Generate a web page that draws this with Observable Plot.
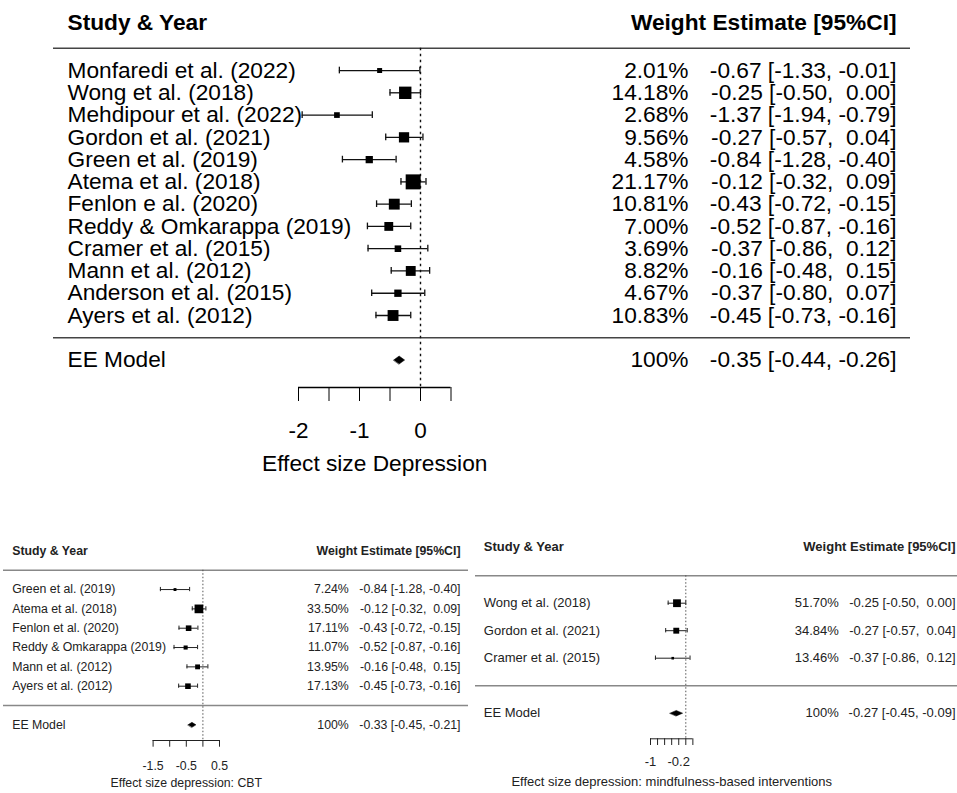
<!DOCTYPE html>
<html>
<head>
<meta charset="utf-8">
<script src="https://cdn.jsdelivr.net/npm/d3@7"></script>
<script src="https://cdn.jsdelivr.net/npm/@observablehq/plot@0.6"></script>
<style>
html, body { margin: 0; padding: 0; background: #fff; }
#wrap { position: relative; width: 957px; height: 793px; overflow: hidden; font-family: "Liberation Sans", Arial, sans-serif; }
#wrap > div { position: absolute; }
svg text { white-space: pre; }
</style>
</head>
<body>
<div id="wrap">
  <div id="main" style="left:0;top:0"></div>
  <div id="cbt" style="left:0;top:520px"></div>
  <div id="mbi" style="left:475px;top:520px"></div>
</div>
<script>
// ---------- Main forest plot: all studies ----------
const mainStudies = ["Monfaredi et al. (2022)", "Wong et al. (2018)", "Mehdipour et al. (2022)", "Gordon et al. (2021)",
  "Green et al. (2019)", "Atema et al. (2018)", "Fenlon e al. (2020)", "Reddy & Omkarappa (2019)",
  "Cramer et al. (2015)", "Mann et al. (2012)", "Anderson et al. (2015)", "Ayers et al. (2012)"];
const mainWeights = [2.01, 14.18, 2.68, 9.56, 4.58, 21.17, 10.81, 7.00, 3.69, 8.82, 4.67, 10.83];
const mainEst = [-0.67, -0.25, -1.37, -0.27, -0.84, -0.12, -0.43, -0.52, -0.37, -0.16, -0.37, -0.45];
const mainLo  = [-1.33, -0.50, -1.94, -0.57, -1.28, -0.32, -0.72, -0.87, -0.86, -0.48, -0.80, -0.73];
const mainHi  = [-0.01, 0.00, -0.79, 0.04, -0.40, 0.09, -0.15, -0.16, 0.12, 0.15, 0.07, -0.16];
const mainModel = ["EE Model", 100, -0.35, -0.44, -0.26];
const mainTicks = [-2, -1.5, -1, -0.5, 0, 0.5];
const mainTickLabels = [-2, -1, 0];
const mainTitle = "Effect size Depression";

// ---------- CBT subgroup ----------
const cbtStudies = ["Green et al. (2019)", "Atema et al. (2018)", "Fenlon et al. (2020)", "Reddy & Omkarappa (2019)",
  "Mann et al. (2012)", "Ayers et al. (2012)"];
const cbtWeights = [7.24, 33.50, 17.11, 11.07, 13.95, 17.13];
const cbtEst = [-0.84, -0.12, -0.43, -0.52, -0.16, -0.45];
const cbtLo  = [-1.28, -0.32, -0.72, -0.87, -0.48, -0.73];
const cbtHi  = [-0.40, 0.09, -0.15, -0.16, 0.15, -0.16];
const cbtModel = ["EE Model", 100, -0.33, -0.45, -0.21];
const cbtTicks = [-1.5, -1, -0.5, 0, 0.5];
const cbtTickLabels = [-1.5, -0.5, 0.5];
const cbtTitle = "Effect size depression: CBT";

// ---------- Mindfulness subgroup ----------
const mbiStudies = ["Wong et al. (2018)", "Gordon et al. (2021)", "Cramer et al. (2015)"];
const mbiWeights = [51.70, 34.84, 13.46];
const mbiEst = [-0.25, -0.27, -0.37];
const mbiLo  = [-0.50, -0.57, -0.86];
const mbiHi  = [0.00, 0.04, 0.12];
const mbiModel = ["EE Model", 100, -0.27, -0.45, -0.09];
const mbiTicks = [-1, -0.8, -0.6, -0.4, -0.2, 0, 0.2];
const mbiTickLabels = [-1, -0.2];
const mbiTitle = "Effect size depression: mindfulness-based interventions";

const headLeft = "Study & Year";
const headRight = "Weight Estimate [95%CI]";

function forest(c) {
  const k = c.studies.length;
  const rows = c.studies.map((s, i) => ({label: s, weight: c.weights[i], est: c.est[i], lo: c.lo[i], hi: c.hi[i], row: k - i}));
  const model = {label: c.model[0], weight: c.model[1], est: c.model[2], lo: c.model[3], hi: c.model[4], row: -1};
  const all = rows.concat([model]);
  const f2 = v => v.toFixed(2);
  const wE = d3.max(all, d => f2(d.est).length);
  const wL = d3.max(all, d => f2(d.lo).length);
  const wH = d3.max(all, d => f2(d.hi).length);
  const estStr = d => `${f2(d.est).padStart(wE)} [${f2(d.lo).padStart(wL)}, ${f2(d.hi).padStart(wH)}]`;
  const wStr = d => d.weight === 100 ? "100%" : d.weight.toFixed(2) + "%";
  const sq = d3.extent(rows, d => Math.sqrt(d.weight));
  const side = d => c.base * (0.5 + (Math.sqrt(d.weight) - sq[0]) / (sq[1] - sq[0]));
  const axisRow = 1 - (c.axisPx - c.row1Px) / c.rowPx;
  const headRow = k + 2, topRow = k + 1;
  const tickExt = d3.extent(c.ticks);
  const diamond = [[model.lo, model.row], [model.est, model.row + c.dia], [model.hi, model.row], [model.est, model.row - c.dia]]
    .map(([x, y]) => ({x, y}));
  const fs = c.fontSize;
  return Plot.plot({
    width: c.width,
    height: c.height,
    marginLeft: c.ml,
    marginRight: c.mr,
    marginTop: 0,
    marginBottom: c.height - c.axisPx,
    style: {fontSize: c.tickFont + "px", fontFamily: '"Liberation Sans", Arial, sans-serif', background: "transparent", color: c.textColor, overflow: "visible"},
    x: {domain: tickExt, range: tickExt.map(t => c.x0Px + t * c.ppu), ticks: c.ticks, tickSize: c.tickSize,
        tickPadding: c.tickPad, tickFormat: d => c.tickLabels.includes(d) ? String(d) : "", label: null, axis: "bottom"},
    y: {domain: [headRow, axisRow], range: [c.row1Px - (headRow - 1) * c.rowPx, c.axisPx], axis: null},
    r: {type: "identity"},
    marks: [
      Plot.ruleY([topRow, 0], {stroke: c.lineColor, strokeWidth: c.lineWidth}),
      Plot.ruleX([0], {y1: topRow, y2: axisRow, stroke: c.refColor, strokeWidth: c.refWidth, strokeDasharray: c.dash}),
      Plot.ruleY([axisRow], {x1: tickExt[0], x2: tickExt[1], stroke: c.textColor, strokeWidth: c.axisWidth}),
      Plot.ruleY(rows, {y: "row", x1: "lo", x2: "hi", stroke: c.barColor, strokeWidth: c.barWidth}),
      Plot.ruleX(rows, {x: "lo", y1: d => d.row - c.cap, y2: d => d.row + c.cap, stroke: c.barColor, strokeWidth: c.barWidth}),
      Plot.ruleX(rows, {x: "hi", y1: d => d.row - c.cap, y2: d => d.row + c.cap, stroke: c.barColor, strokeWidth: c.barWidth}),
      Plot.dot(rows, {x: "est", y: "row", r: d => side(d) / Math.sqrt(Math.PI), symbol: "square", fill: "#000", stroke: "none"}),
      Plot.line(diamond, {x: "x", y: "y", curve: "linear-closed", fill: "#000", stroke: "#000", strokeWidth: 0.5}),
      Plot.text(all, {y: "row", text: "label", frameAnchor: "left", dx: c.nameDx, textAnchor: "start", fontSize: fs}),
      Plot.text(all, {y: "row", text: wStr, frameAnchor: "right", dx: c.wDx, textAnchor: "end", fontSize: fs}),
      Plot.text(all, {y: "row", text: estStr, frameAnchor: "right", dx: c.eDx, textAnchor: "end", fontSize: fs}),
      Plot.text([headLeft], {y: headRow, text: d => d, frameAnchor: "left", dx: c.nameDx, dy: c.headDy, textAnchor: "start", fontSize: c.headSize, fontWeight: "bold"}),
      Plot.text([headRight], {y: headRow, text: d => d, frameAnchor: "right", dx: c.eDx, dy: c.headDy, textAnchor: "end", fontSize: c.headSize, fontWeight: "bold"}),
      Plot.text([c.title], {x: d3.mean(tickExt), text: d => d, frameAnchor: "bottom", dy: c.titleDy, fontSize: c.titleSize})
    ]
  });
}

document.getElementById("main").append(forest({
  studies: mainStudies, weights: mainWeights, est: mainEst, lo: mainLo, hi: mainHi, model: mainModel,
  ticks: mainTicks, tickLabels: mainTickLabels, title: mainTitle,
  width: 957, height: 490, ml: 53, mr: 47,
  x0Px: 420, ppu: 61, row1Px: 315, rowPx: 22.27, axisPx: 387,
  tickSize: 14, tickPad: 21, base: 10, cap: 0.15, dia: 0.18,
  fontSize: 22.7, headSize: 22.7, titleSize: 22.7, tickFont: 22.5, headDy: -3, titleDy: 83,
  nameDx: 14, wDx: -222, eDx: -14,
  textColor: "#000", lineColor: "#444", lineWidth: 1.6, refColor: "#111", refWidth: 1.4, dash: "2.5,3.5",
  axisWidth: 1.3, barColor: "#111", barWidth: 1.3
}));

document.getElementById("cbt").append(forest({
  studies: cbtStudies, weights: cbtWeights, est: cbtEst, lo: cbtLo, hi: cbtHi, model: cbtModel,
  ticks: cbtTicks, tickLabels: cbtTickLabels, title: cbtTitle,
  width: 475, height: 273, ml: 3, mr: 7,
  x0Px: 202.4, ppu: 33.2, row1Px: 165.7, rowPx: 19.33, axisPx: 220,
  tickSize: 6.7, tickPad: 14, base: 5.8, cap: 0.11, dia: 0.13,
  fontSize: 12.3, headSize: 12.3, titleSize: 12.3, tickFont: 12.3, headDy: 0.5, titleDy: 46.7,
  nameDx: 8.7, wDx: -119.7, eDx: -8,
  textColor: "#222", lineColor: "#888", lineWidth: 1.4, refColor: "#555", refWidth: 1, dash: "1.5,2",
  axisWidth: 1, barColor: "#222", barWidth: 1
}));

document.getElementById("mbi").append(forest({
  studies: mbiStudies, weights: mbiWeights, est: mbiEst, lo: mbiLo, hi: mbiHi, model: mbiModel,
  ticks: mbiTicks, tickLabels: mbiTickLabels, title: mbiTitle,
  width: 482, height: 273, ml: 0, mr: 0,
  x0Px: 210.3, ppu: 35.3, row1Px: 137.7, rowPx: 27.5, axisPx: 218.3,
  tickSize: 6.7, tickPad: 11.5, base: 5.2, cap: 0.08, dia: 0.1,
  fontSize: 13, headSize: 13, titleSize: 13, tickFont: 13, headDy: -1.7, titleDy: 46.7,
  nameDx: 8.3, wDx: -118.7, eDx: -2,
  textColor: "#222", lineColor: "#888", lineWidth: 1.4, refColor: "#555", refWidth: 1, dash: "1.5,2",
  axisWidth: 1, barColor: "#222", barWidth: 1
}));
</script>
</body>
</html>
